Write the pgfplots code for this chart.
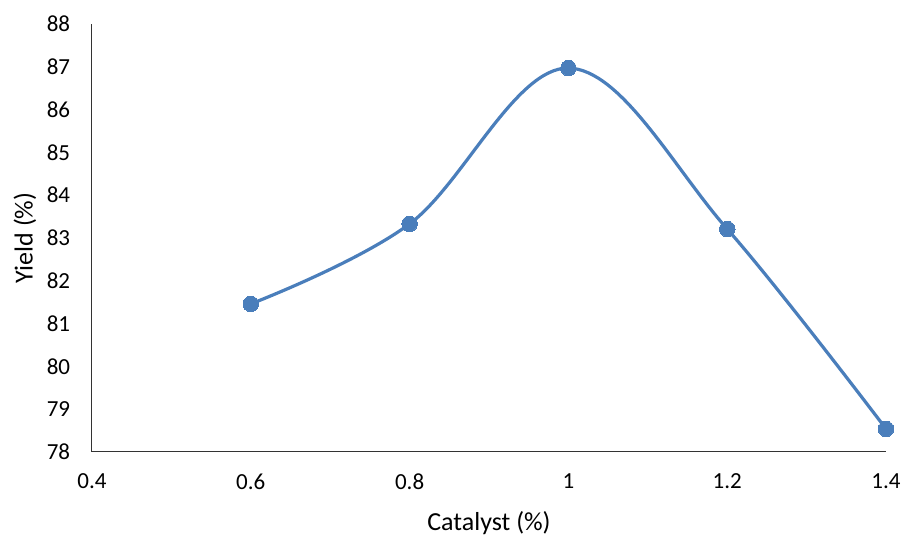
\documentclass[border=0pt]{standalone}
\usepackage{pgfplots}
\pgfplotsset{compat=1.18}
\usepackage{fontspec}
\setmainfont{Carlito}
\definecolor{xlblue}{HTML}{4A7EBB}
\begin{document}
\fontsize{23}{27}\selectfont
\begin{tikzpicture}
\begin{axis}[
  name=ax,
  scale only axis,
  width=794pt, height=428pt,
  xmin=0.4, xmax=1.4, ymin=78, ymax=88,
  xtick={0.4,0.6,...,1.41},
  xticklabels={0.4,0.6,0.8,1,1.2,1.4},
  ytick={78,79,...,88},
  axis lines*=left,
  axis line style={line width=1pt, black!80},
  major tick length=0pt,
  tick style={draw=none},
  /pgf/number format/assume math mode=true,
  ticklabel style={font=\fontsize{23}{27}\selectfont},
  yticklabel style={xshift=-14pt},
  xticklabel style={yshift=-14pt},
  xlabel={Catalyst (\%)},
  ylabel={Yield (\%)},
  label style={font=\fontsize{26}{30}\selectfont},
  xlabel style={yshift=-6pt},
  ylabel style={yshift=-5pt},
  clip=false,
]
\addplot[color=xlblue, line width=3.2pt, smooth, tension=0.6,
  mark=*, mark size=7.8pt, mark options={fill=xlblue, draw=xlblue, line width=0pt}]
  coordinates {(0.6,81.46)(0.8,83.33)(1.0,86.97)(1.2,83.21)(1.4,78.54)};
\end{axis}
\pgfresetboundingbox
\path ([xshift=-92pt,yshift=-85pt]ax.south west) rectangle ([xshift=18pt,yshift=24pt]ax.north east);
\end{tikzpicture}
\end{document}
